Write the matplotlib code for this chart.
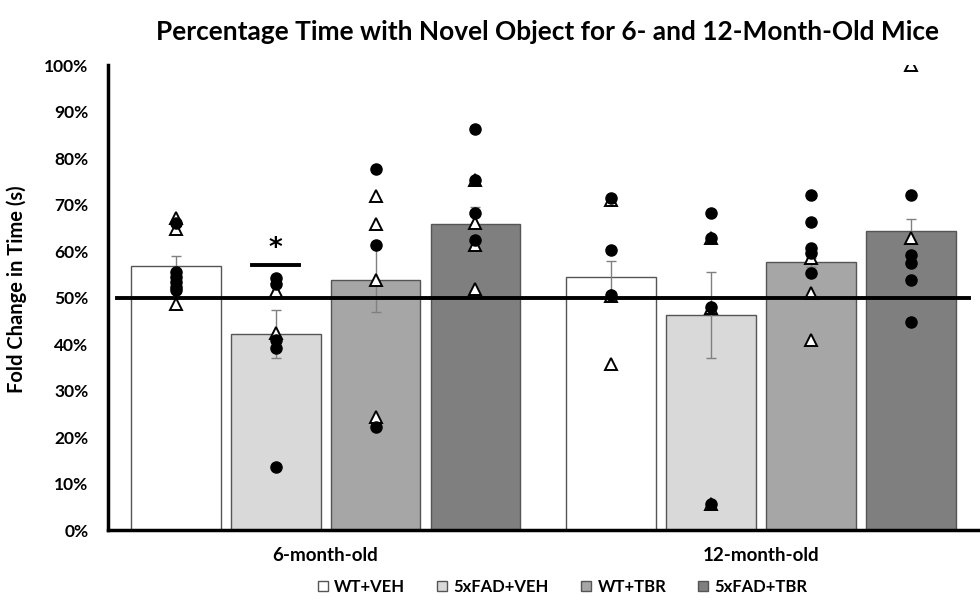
import matplotlib
matplotlib.use("Agg")
import matplotlib.pyplot as plt
import numpy as np
from matplotlib.patches import Patch
from matplotlib.ticker import FuncFormatter

plt.rcParams['font.family'] = ['Lato', 'DejaVu Sans']

age_groups = ["6-month-old", "12-month-old"]
treatments = ["WT+VEH", "5xFAD+VEH", "WT+TBR", "5xFAD+TBR"]
bar_colors = ["#ffffff", "#d9d9d9", "#a6a6a6", "#7f7f7f"]

# mean values (%) per age group, per treatment
means_6m = [56.8, 42.1, 53.8, 65.9]
means_12m = [54.5, 46.2, 57.6, 64.2]
sem_6m = [2.2, 5.2, 7.0, 3.6]
sem_12m = [3.3, 9.3, 1.0, 2.6]

# individual animals: filled circles
circles_6m = [
    [66.1, 55.5, 54.5, 53.4, 52.3, 51.6],
    [54.2, 52.8, 40.9, 39.1, 13.6],
    [77.6, 61.4, 22.2],
    [86.2, 75.3, 68.1, 62.4],
]
circles_12m = [
    [71.3, 60.2, 50.5],
    [68.1, 62.9, 48.0, 5.7],
    [72.0, 66.3, 60.6, 59.5, 55.2],
    [72.0, 59.1, 57.4, 53.8, 44.8],
]
# individual animals: open triangles
triangles_6m = [
    [67.2, 64.7, 48.5],
    [51.3, 42.3],
    [71.8, 65.9, 53.8, 24.4],
    [75.3, 66.0, 61.3, 51.8],
]
triangles_12m = [
    [71.0, 50.3, 35.8],
    [62.7, 47.8, 5.7],
    [58.4, 50.9, 40.9],
    [100.0, 62.9],
]

means = [means_6m, means_12m]
sems = [sem_6m, sem_12m]
circles = [circles_6m, circles_12m]
triangles = [triangles_6m, triangles_12m]

fig = plt.figure(figsize=(9.8, 6.06), dpi=100)
ax = fig.add_axes([0.110, 0.1254, 0.889, 0.7673])

step = 0.2294
width = 0.206
offsets = (np.arange(4) - 1.5) * step

for g in range(2):
    for t in range(4):
        x = g + offsets[t]
        ax.bar(x, means[g][t], width=width, color=bar_colors[t],
               edgecolor="#555555", linewidth=1.0, zorder=2)
        ax.errorbar(x, means[g][t], yerr=sems[g][t], fmt="none",
                    ecolor="#808080", elinewidth=1.0, capsize=3.6,
                    capthick=1.0, zorder=3)
        ax.plot([x] * len(triangles[g][t]), triangles[g][t], linestyle="none",
                marker="^", markersize=8.5, markerfacecolor="white",
                markeredgecolor="black", markeredgewidth=1.4, zorder=4)
        ax.plot([x] * len(circles[g][t]), circles[g][t], linestyle="none",
                marker="o", markersize=8, markerfacecolor="black",
                markeredgecolor="black", zorder=5)

# chance line at 50%
ax.axhline(50, xmin=0.01, xmax=0.989, color="black", linewidth=2.8, zorder=6)

# significance marker
xs = 0 + offsets[1]
ax.plot([xs - 0.054, xs + 0.054], [57.1, 57.1], color="black", linewidth=2.8, zorder=6)
ax.text(xs, 60.4, "*", ha="center", va="center", fontsize=19, fontweight="bold",
        family="DejaVu Sans")

ax.set_xlim(-0.5, 1.5)
ax.set_ylim(0, 100)
ax.set_yticks(np.arange(0, 101, 10))
ax.yaxis.set_major_formatter(FuncFormatter(lambda v, p: f"{int(v)}%"))
ax.set_xticks([0, 1])
ax.set_xticklabels(age_groups)
ax.tick_params(axis="both", length=0)
ax.tick_params(axis="y", pad=14, labelsize=12.5)
ax.tick_params(axis="x", pad=12, labelsize=13.5)
for lab in ax.get_xticklabels() + ax.get_yticklabels():
    lab.set_fontweight("bold")

for s in ["top", "right"]:
    ax.spines[s].set_visible(False)
ax.spines["left"].set_linewidth(2.5)
ax.spines["bottom"].set_linewidth(2.5)

ax.set_ylabel("Fold Change in Time (s)", fontsize=14.5, fontweight="bold")
ax.yaxis.set_label_coords(-0.093, 0.517)
fig.text(0.559, 0.948, "Percentage Time with Novel Object for 6- and 12-Month-Old Mice",
         ha="center", va="center", fontsize=18.9, fontweight="bold")

handles = [Patch(facecolor=c, edgecolor="#555555", linewidth=1.0) for c in bar_colors]
leg = fig.legend(handles, treatments, loc="center", bbox_to_anchor=(562.5 / 980, 1 - 587 / 606),
                 ncol=4, frameon=False, handlelength=0.6, handleheight=0.6,
                 handletextpad=0.4, columnspacing=1.9,
                 prop={"weight": "bold", "size": 12})

fig.savefig("out.png", dpi=100)
